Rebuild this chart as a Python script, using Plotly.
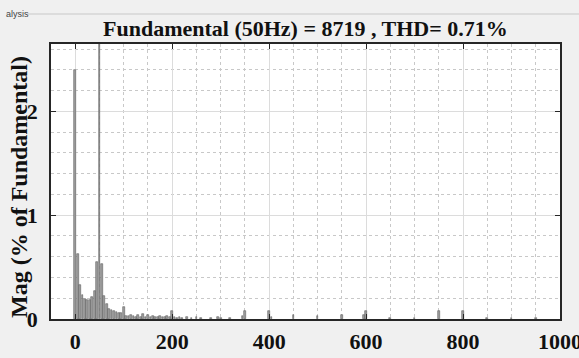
import plotly.graph_objects as go

# Harmonic spectrum (Hz) and magnitudes (% of fundamental)
freqs = [0, 5, 10, 15, 20, 25, 30, 35, 40, 45, 50, 55, 60, 65, 70, 75, 80, 85, 90, 95,
         100, 105, 110, 115, 120, 125, 130, 135, 140, 145, 150, 155, 160, 165, 170, 175,
         180, 185, 190, 195, 200, 205, 210, 215, 220, 230, 240, 250, 260, 280, 295, 300,
         320, 345, 350, 400, 405, 450, 500, 550, 595, 600, 650, 700, 750, 800, 850, 900, 950]
mags = [2.40, 0.63, 0.33, 0.23, 0.19, 0.18, 0.18, 0.21, 0.27, 0.55, 100.0, 0.53, 0.22, 0.14,
        0.10, 0.09, 0.08, 0.07, 0.06, 0.06,
        0.12, 0.03, 0.03, 0.04, 0.03, 0.02, 0.04, 0.02, 0.05, 0.02, 0.04, 0.02, 0.03, 0.02,
        0.02, 0.03, 0.02, 0.02, 0.03, 0.02, 0.08, 0.02, 0.01, 0.02, 0.01, 0.02, 0.01, 0.02,
        0.01, 0.01, 0.02, 0.01, 0.01, 0.03, 0.08, 0.08, 0.02, 0.04, 0.03, 0.04, 0.04, 0.08,
        0.01, 0.01, 0.08, 0.08, 0.01, 0.01, 0.01]

x_ticks = [0, 200, 400, 600, 800, 1000]
y_ticks = [0, 1, 2]
title_text = "Fundamental (50Hz) = 8719 , THD= 0.71%"
ylabel_text = "Mag (% of Fundamental)"

serif = "Liberation Serif"

fig = go.Figure()
fig.add_trace(go.Bar(
    x=freqs, y=mags, width=3.6,
    marker=dict(color="#a0a0a0", line=dict(color="#5e5e5e", width=0.6)),
    showlegend=False,
))

axis_common = dict(
    showline=True, linecolor="#262626", linewidth=1.6, mirror="ticks",
    ticks="inside", ticklen=5, tickwidth=1.2, tickcolor="#262626",
    showgrid=True, gridcolor="#dcdcdc", gridwidth=1,
    zeroline=False, automargin=False,
    tickfont=dict(family=serif, size=22, color="#111111", weight="bold"),
)

fig.update_xaxes(
    range=[-50, 1000], tickvals=x_ticks, ticktext=[str(v) for v in x_ticks],
    minor=dict(dtick=50, tick0=0, showgrid=True, gridcolor="#c8c8c8", griddash="dot", gridwidth=1),
    ticklabelstandoff=2, ticklabeloverflow="allow",
    **axis_common,
)
fig.update_yaxes(
    range=[0, 2.65], tickvals=y_ticks, ticktext=[str(v) for v in y_ticks],
    minor=dict(dtick=0.2, tick0=0, showgrid=True, gridcolor="#c8c8c8", griddash="dot", gridwidth=1),
    ticklabelstandoff=7,
    **axis_common,
)

fig.update_layout(
    width=579, height=358,
    margin=dict(l=51, r=19, t=44, b=39, autoexpand=False),
    paper_bgcolor="#f0f0f0", plot_bgcolor="#ffffff",
    bargap=0,
    annotations=[
        dict(text=title_text, xref="paper", yref="paper",
             x=0.5, y=(319 - 28) / 275, xanchor="center", yanchor="middle", showarrow=False,
             font=dict(family=serif, size=22, color="#111111", weight="bold")),
        dict(text=ylabel_text, textangle=-90, xref="paper", yref="paper",
             x=(19 - 51) / 509, y=0.48, xanchor="center", yanchor="middle", showarrow=False,
             font=dict(family=serif, size=24, color="#111111", weight="bold")),
        dict(text="alysis", xref="paper", yref="paper", x=(4 - 51) / 509, y=(319 - 14) / 275,
             xanchor="left", yanchor="middle", showarrow=False,
             font=dict(family="Liberation Sans", size=9, color="#444444")),
    ],
    shapes=[
        dict(type="line", xref="paper", yref="paper",
             x0=(28 - 51) / 509, x1=(579 - 51) / 509,
             y0=(319 - 14) / 275, y1=(319 - 14) / 275,
             line=dict(color="#c8c8c8", width=1)),
    ],
)

fig.write_html("out.html", config={"displayModeBar": False},
               post_script="document.body.style.margin='0px';document.body.style.padding='0px';")
